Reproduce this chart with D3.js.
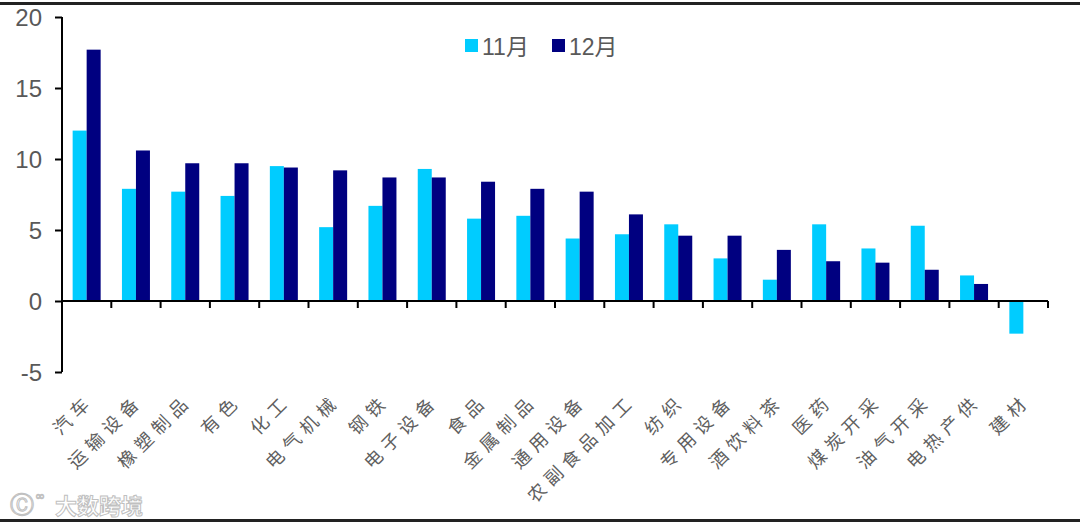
<!DOCTYPE html>
<html><head><meta charset="utf-8">
<script src="https://cdn.jsdelivr.net/npm/d3@7"></script>
<style>body{margin:0;background:#fff}svg{display:block}</style>
</head><body>
<script>
const categories = ["汽车","运输设备","橡塑制品","有色","化工","电气机械","钢铁","电子设备","食品","金属制品","通用设备","农副食品加工","纺织","专用设备","酒饮料茶","医药","煤炭开采","油气开采","电热产供","建材"];
const seriesNames = ["11月","12月"];
const nov = [12.0,7.9,7.7,7.4,9.5,5.2,6.7,9.3,5.8,6.0,4.4,4.7,5.4,3.0,1.5,5.4,3.7,5.3,1.8,-2.3];
const dec = [17.7,10.6,9.7,9.7,9.4,9.2,8.7,8.7,8.4,7.9,7.7,6.1,4.6,4.6,3.6,2.8,2.7,2.2,1.2,0];
const yTicks = [-5,0,5,10,15,20];
const colors = ["#00CCFF","#000080"];

const W=1080,H=525;
const svg=d3.select("body").append("svg").attr("width",W).attr("height",H);
const x0=62,x1=1048,yTop=17,yBot=372;
const y=d3.scaleLinear().domain([-5,20]).range([yBot,yTop]);
const x=d3.scaleBand().domain(categories).range([x0,x1]).paddingInner(0).paddingOuter(0);

// frame lines
svg.append("rect").attr("x",0).attr("y",2).attr("width",W).attr("height",3).attr("fill","#222");
svg.append("rect").attr("x",0).attr("y",519).attr("width",W).attr("height",3).attr("fill","#222");

// bars
const data=[nov,dec];
const bw=14;
data.forEach((arr,si)=>{
  svg.append("g").selectAll("rect").data(arr).join("rect")
    .attr("x",(d,i)=>x(categories[i])+x.bandwidth()/2-bw+si*bw)
    .attr("width",bw)
    .attr("y",d=>y(Math.max(0,d)))
    .attr("height",d=>Math.abs(y(d)-y(0)))
    .attr("fill",colors[si]);
});

// y axis
const ya=svg.append("g").attr("transform",`translate(${x0},0)`)
  .call(d3.axisLeft(y).tickValues(yTicks).tickSize(7).tickPadding(13).tickFormat(d=>String(d)));
ya.select(".domain").attr("stroke","#000").attr("stroke-width",2).attr("d",`M0,${yTop}V${yBot}`);
ya.selectAll(".tick line").attr("stroke","#000").attr("stroke-width",2);
ya.selectAll("text").attr("font-family","Liberation Sans, Arial").attr("font-size",24).attr("fill","#595959").attr("dy","0.36em");

// x axis
const xa=svg.append("g").attr("transform",`translate(0,${y(0)})`);
xa.append("line").attr("x1",x0).attr("x2",x1).attr("stroke","#000").attr("stroke-width",2);
const bounds=categories.map(c=>x(c)+x.bandwidth());
xa.selectAll("line.t").data(bounds).join("line").attr("class","t")
  .attr("x1",d=>d).attr("x2",d=>d).attr("y1",0).attr("y2",7).attr("stroke","#000").attr("stroke-width",2);

// category labels
svg.append("g").selectAll("text").data(categories).join("text")
  .attr("transform",c=>`translate(${x(c)+x.bandwidth()/2+8},${402}) rotate(-45)`)
  .attr("text-anchor","end")
  .attr("font-family","Noto Sans CJK SC")
  .attr("font-size",18).attr("letter-spacing",6)
  .attr("fill","#606060")
  .text(c=>c);

// legend
const lg=svg.append("g");
const lx=[465,552];
seriesNames.forEach((n,i)=>{
  lg.append("rect").attr("x",lx[i]).attr("y",39).attr("width",13).attr("height",13).attr("fill",colors[i]);
  lg.append("text").attr("x",lx[i]+17).attr("y",55).attr("font-family","Liberation Sans, Noto Sans CJK SC").attr("font-size",23).attr("fill","#595959").text(n);
});

// watermark
const wm=svg.append("g").attr("fill","#fff").attr("stroke","#c0c0c0").attr("stroke-width",1);
wm.append("text").attr("x",10).attr("y",513).attr("font-family","DejaVu Sans").attr("font-size",24).text("Ⓒ");
wm.append("text").attr("x",35).attr("y",500).attr("font-family","DejaVu Sans").attr("font-size",12).text("∞");
wm.append("text").attr("x",55).attr("y",514).attr("font-family","Noto Sans CJK SC").attr("font-size",22).attr("font-weight",700).text("大数跨境");
</script>
</body></html>
